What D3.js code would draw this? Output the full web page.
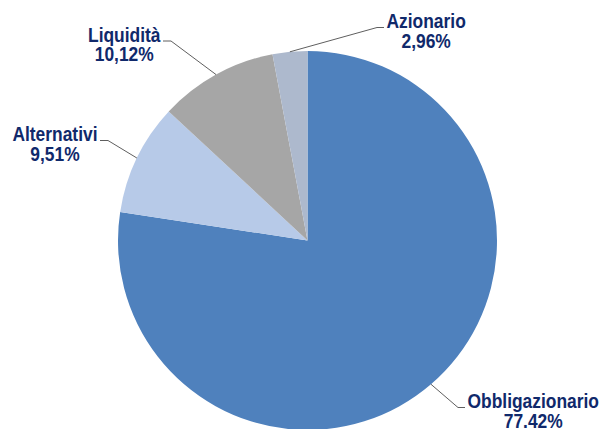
<!DOCTYPE html>
<html>
<head>
<meta charset="utf-8">
<script src="https://cdn.jsdelivr.net/npm/d3@7"></script>
<style>
  html, body { margin: 0; padding: 0; background: #fff; }
  svg { display: block; }
  .lbl { font-family: "Liberation Sans", Arial, sans-serif; font-weight: bold; font-size: 20px; fill: #10296B; }
</style>
</head>
<body>
<svg id="chart" width="602" height="429"></svg>
<script>
// dati (ordine orario dalle ore 12)
const categories = ["Obbligazionario", "Alternativi", "Liquidità", "Azionario"];
const values = [77.42, 9.51, 10.12, 2.96];
const valueLabels = ["77.42%", "9,51%", "10,12%", "2,96%"];
const colors = ["#4F81BD", "#B7CAE8", "#A6A6A6", "#ADB9CD"];

// posizione etichette: gomito della linea, lato del testo
const labelLayout = {
    "Obbligazionario": {ex: 458, ey: 407.5, side: "right"},
    "Alternativi":     {ex: 108, ey: 140.5, side: "left"},
    "Liquidità":       {ex: 171, ey: 41,    side: "left"},
    "Azionario":       {ex: 377, ey: 27.5,  side: "right"}
};

const W = 602, H = 429;
const cx = 307.5, cy = 240.5, R = 189.5;
const sx = 0.87;       // testo leggermente stretto, come nell'originale
const lineGap = 20;

const svg = d3.select("#chart");
svg.append("rect").attr("width", W).attr("height", H).attr("fill", "#fff");

const data = categories.map((c, i) => ({name: c, value: values[i], label: valueLabels[i], color: colors[i]}));

const pie = d3.pie().sort(null).value(d => d.value);
const arc = d3.arc().innerRadius(0).outerRadius(R);

const g = svg.append("g").attr("transform", "translate(" + cx + "," + cy + ")");
const arcs = pie(data);

g.selectAll("path.slice")
    .data(arcs)
    .enter().append("path")
    .attr("class", "slice")
    .attr("d", arc)
    .attr("fill", d => d.data.color);

// linee guida + testo
arcs.forEach(a => {
    const lay = labelLayout[a.data.name];
    const mid = (a.startAngle + a.endAngle) / 2;
    const px = cx + R * Math.sin(mid);
    const py = cy - R * Math.cos(mid);
    const hx = lay.side === "left" ? lay.ex - 8 : lay.ex + 7;

    svg.append("polyline")
        .attr("points", [[px, py], [lay.ex, lay.ey], [hx, lay.ey]].map(p => p.join(",")).join(" "))
        .attr("fill", "none")
        .attr("stroke", "#5F5F5F")
        .attr("stroke-width", 1);

    // larghezza della prima riga, per centrare la seconda
    const tmp = svg.append("text").attr("class", "lbl").text(a.data.name);
    const w = tmp.node().getComputedTextLength() * sx;
    tmp.remove();
    const tc = lay.side === "left" ? hx - 2.5 - w / 2 : hx + 2.5 + w / 2;

    const t = svg.append("text").attr("class", "lbl").attr("text-anchor", "middle")
        .attr("transform", "translate(" + tc + "," + (lay.ey + 0.5) + ") scale(" + sx + ",1)");
    t.append("tspan").attr("x", 0).attr("y", 0).text(a.data.name);
    t.append("tspan").attr("x", 0).attr("y", lineGap).text(a.data.label);
});
</script>
</body>
</html>
